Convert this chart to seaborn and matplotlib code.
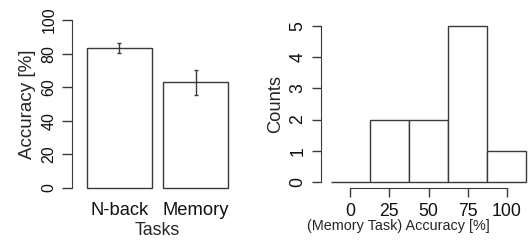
import numpy as np
import pandas as pd
import matplotlib
matplotlib.use('Agg')
import matplotlib.pyplot as plt
import seaborn as sns

# left panel: mean accuracy per task with error bars
tasks = ['N-back', 'Memory']
acc_mean = [83.5, 62.9]
acc_err = [3.0, 7.6]

# right panel: histogram of memory task accuracy (bin centres, counts)
bin_centres = [0, 25, 50, 75, 100]
bin_counts = [0, 2, 2, 5, 1]
bin_edges = [-12.5, 12.5, 37.5, 62.5, 87.5, 112.5]

sns.set_style('ticks')
plt.rcParams['font.family'] = ['Liberation Sans', 'DejaVu Sans']
line_col = '#3a3a3a'
plt.rcParams['axes.edgecolor'] = line_col
plt.rcParams['xtick.color'] = line_col
plt.rcParams['ytick.color'] = line_col
plt.rcParams['xtick.labelcolor'] = '#111111'
plt.rcParams['ytick.labelcolor'] = '#111111'

fig = plt.figure(figsize=(5.32, 2.41), dpi=100)

# ---- left: bar chart
ax1 = fig.add_axes([0.1353, 0.192, 0.312, 0.7527])
bar_df = pd.DataFrame({'task': tasks, 'acc': acc_mean})
sns.barplot(data=bar_df, x='task', y='acc', color='white', edgecolor=line_col,
            linewidth=1.0, width=0.85, errorbar=None, ax=ax1)
ax1.errorbar([0, 1], acc_mean, yerr=acc_err, fmt='none', ecolor=line_col,
             elinewidth=1.0, capsize=1.6, capthick=1.0)
ax1.set_xlim(-0.62, 1.55)
ax1.set_ylim(-4, 104)
ax1.set_yticks([0, 20, 40, 60, 80, 100])
ax1.spines['left'].set_bounds(0, 100)
for s in ['top', 'right', 'bottom']:
    ax1.spines[s].set_visible(False)
ax1.tick_params(axis='y', length=7, width=1.0, pad=4, labelsize=11.5)
ax1.tick_params(axis='x', length=0, pad=5, labelsize=13.2)
plt.setp(ax1.get_yticklabels(), rotation=90, va='center')
ax1.set_ylabel('Accuracy [%]', fontsize=13.5, labelpad=4)
ax1.set_xlabel('Tasks', fontsize=12.8)
ax1.xaxis.set_label_coords(0.515, -0.15)

# ---- right: histogram
ax2 = fig.add_axes([0.6034, 0.2189, 0.4006, 0.699])
sns.histplot(x=bin_centres, weights=bin_counts, bins=bin_edges, color='white',
             edgecolor=line_col, linewidth=1.0, alpha=1, ax=ax2)
ax2.set_xlim(-18.7, 117.5)
ax2.set_ylim(-0.2, 5.2)
ax2.set_xticks([0, 25, 50, 75, 100])
ax2.set_yticks([0, 1, 2, 3, 4, 5])
ax2.spines['left'].set_bounds(0, 5)
ax2.spines['bottom'].set_bounds(0, 100)
for s in ['top', 'right']:
    ax2.spines[s].set_visible(False)
ax2.tick_params(axis='both', length=6.5, width=1.0, labelsize=12.7)
ax2.tick_params(axis='x', pad=4)
ax2.tick_params(axis='y', pad=4)
plt.setp(ax2.get_yticklabels(), rotation=90, va='center')
ax2.set_ylabel('Counts', fontsize=13.2, labelpad=4)
ax2.set_xlabel('(Memory Task) Accuracy [%]', fontsize=10.4)
ax2.xaxis.set_label_coords(0.361, -0.185)

fig.savefig('out.png', dpi=100)
